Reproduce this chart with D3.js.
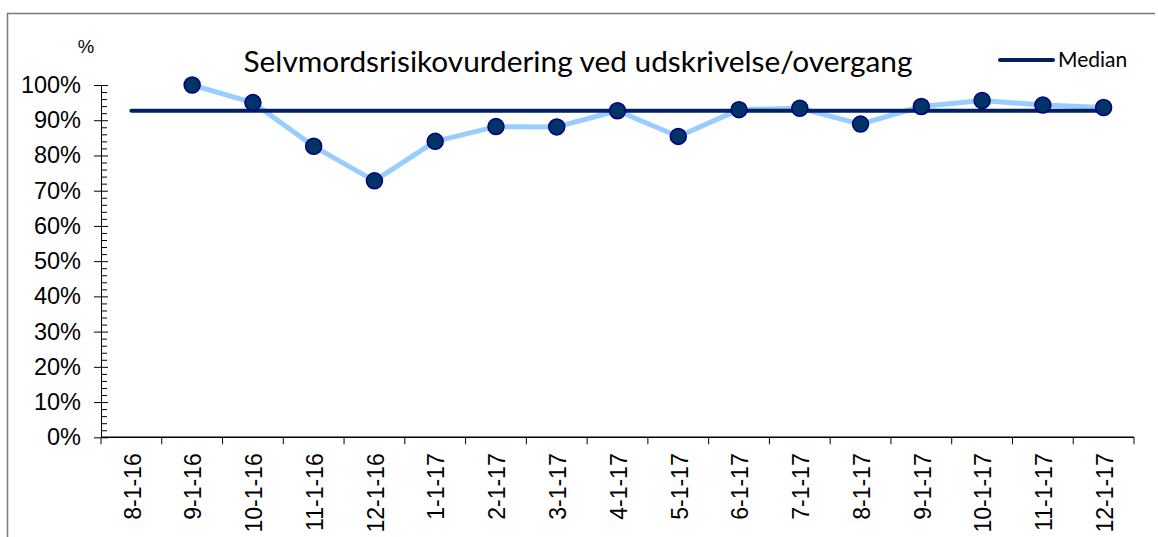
<!DOCTYPE html>
<html>
<head>
<meta charset="utf-8">
<script src="https://cdn.jsdelivr.net/npm/d3@7"></script>
<style>
  body { margin: 0; background: #fff; }
  svg { display: block; }
</style>
</head>
<body>
<svg id="chart" width="1158" height="537"></svg>
<script>
// data
const categories = ['8-1-16', '9-1-16', '10-1-16', '11-1-16', '12-1-16', '1-1-17', '2-1-17', '3-1-17',
  '4-1-17', '5-1-17', '6-1-17', '7-1-17', '8-1-17', '9-1-17', '10-1-17', '11-1-17', '12-1-17']
const values = [null, 100, 95.0, 82.6, 72.8, 84.0, 88.2, 88.1, 92.7, 85.4, 93.0, 93.4, 88.9, 93.9, 95.6, 94.3, 93.6]
const medianValue = 92.7
const yTicks = [0, 10, 20, 30, 40, 50, 60, 70, 80, 90, 100]
const titleText = 'Selvmordsrisikovurdering ved udskrivelse/overgang'

const margin = { top: 85, right: 24, bottom: 100, left: 101 }
const width = 1158
const height = 537
const plotW = 1134 - margin.left
const plotBottom = 437.3

const svg = d3.select('#chart')

// frame (cut off on the right and bottom)
svg.append('path')
  .attr('d', `M7.5,${height}V13.5H1155`)
  .attr('fill', 'none')
  .attr('stroke', '#7a7a7a')
  .attr('stroke-width', 1.5)

// x scale
const xscale = d3.scaleBand()
  .domain(categories)
  .range([margin.left, margin.left + plotW])
// y scale
const yscale = d3.scaleLinear()
  .domain([0, 100])
  .range([plotBottom, margin.top])

// minor ticks every 2%
const minorAxis = d3.axisRight(yscale)
  .tickValues(d3.range(0, 101, 2).filter(v => v % 10 !== 0))
  .tickSize(6)
  .tickFormat('')
svg.append('g')
  .attr('transform', `translate(${margin.left}, 0)`)
  .call(minorAxis)
  .call(g => g.select('.domain').remove())
  .call(g => g.selectAll('line').attr('stroke', '#000'))

// left axis with crossing major ticks
const leftAxis = d3.axisLeft(yscale)
  .tickValues(yTicks)
  .tickSize(7)
  .tickFormat(d => d + '%')
const yg = svg.append('g')
  .attr('transform', `translate(${margin.left}, 0)`)
  .call(leftAxis)
yg.select('.domain').attr('d', `M0.5,${yscale(100)}V${plotBottom}`).attr('stroke', '#000')
yg.selectAll('.tick line').attr('x2', 7).attr('x1', -7).attr('stroke', '#000')
yg.selectAll('text')
  .attr('font-family', 'Arial, "Liberation Sans", sans-serif')
  .attr('font-size', 23.5)
  .attr('fill', '#000')
  .attr('x', -20)

// bottom axis, ticks between categories
const xg = svg.append('g')
  .attr('transform', `translate(0, ${plotBottom})`)
xg.append('line')
  .attr('x1', margin.left).attr('x2', margin.left + plotW)
  .attr('stroke', '#000').attr('stroke-width', 1.5)
xg.selectAll('.xtick')
  .data(categories.concat(['end']))
  .enter()
  .append('line')
  .attr('x1', (d, i) => margin.left + i * xscale.bandwidth())
  .attr('x2', (d, i) => margin.left + i * xscale.bandwidth())
  .attr('y1', 0)
  .attr('y2', 7)
  .attr('stroke', '#000')
xg.selectAll('.xlabel')
  .data(categories)
  .enter()
  .append('text')
  .attr('transform', d => `translate(${xscale(d) + xscale.bandwidth() / 2 + 1}, 16) rotate(-90)`)
  .attr('text-anchor', 'end')
  .attr('dy', '0.36em')
  .attr('font-family', 'Arial, "Liberation Sans", sans-serif')
  .attr('font-size', 23)
  .attr('fill', '#000')
  .text(d => d)

// "%" unit label
svg.append('text')
  .attr('x', 86)
  .attr('y', 53)
  .attr('text-anchor', 'middle')
  .attr('font-family', 'Arial, "Liberation Sans", sans-serif')
  .attr('font-size', 18.5)
  .text('%')

// title
svg.append('text')
  .attr('x', 578)
  .attr('y', 72)
  .attr('text-anchor', 'middle')
  .attr('font-family', 'Lato, "Open Sans", sans-serif')
  .attr('font-size', 29.8)
  .attr('fill', '#000')
  .text(titleText)

const cx = d => xscale(d) + xscale.bandwidth() / 2
const points = categories.map((c, i) => ({ name: c, value: values[i] })).filter(d => d.value !== null)

// data line
const line = d3.line()
  .x(d => cx(d.name))
  .y(d => yscale(d.value))
svg.append('path')
  .datum(points)
  .attr('d', line)
  .attr('fill', 'none')
  .attr('stroke', '#99ccff')
  .attr('stroke-width', 5)
  .attr('stroke-linejoin', 'round')

// median line
svg.append('line')
  .attr('x1', cx(categories[0]))
  .attr('x2', cx(categories[categories.length - 1]))
  .attr('y1', yscale(medianValue))
  .attr('y2', yscale(medianValue))
  .attr('stroke', '#002060')
  .attr('stroke-width', 4)
  .attr('stroke-linecap', 'round')

// markers
svg.append('g')
  .selectAll('circle')
  .data(points)
  .enter()
  .append('circle')
  .attr('cx', d => cx(d.name))
  .attr('cy', d => yscale(d.value))
  .attr('r', 8)
  .attr('fill', '#003366')
  .attr('stroke', '#000080')
  .attr('stroke-width', 1.5)

// legend
const legend = svg.append('g').attr('transform', 'translate(1000, 60)')
legend.append('line')
  .attr('x1', 0).attr('x2', 53)
  .attr('stroke', '#002060')
  .attr('stroke-width', 4)
  .attr('stroke-linecap', 'round')
legend.append('text')
  .attr('x', 58)
  .attr('y', 7)
  .attr('font-family', 'Lato, "Open Sans", sans-serif')
  .attr('font-size', 21)
  .attr('fill', '#000')
  .text('Median')
</script>
</body>
</html>
